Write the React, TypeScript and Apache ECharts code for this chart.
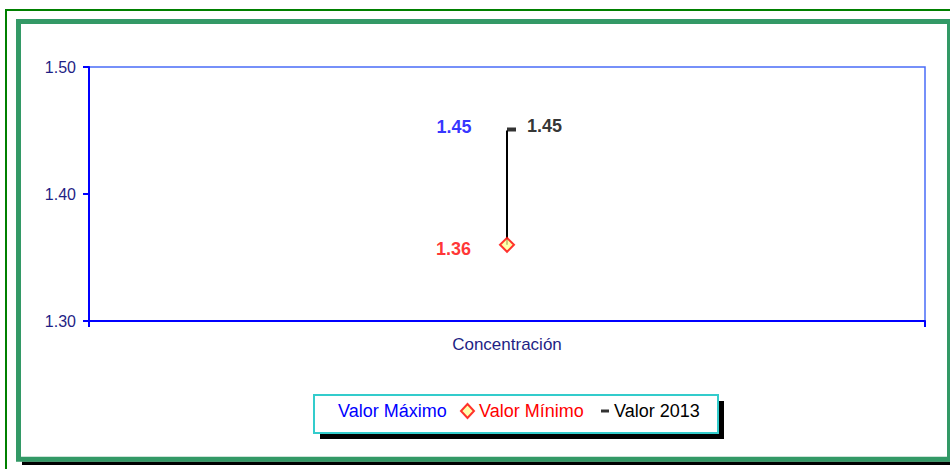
import React, { useEffect, useRef } from "react";
import * as echarts from "echarts";

const categories = ["Concentración"];
const valorMaximo = [1.45];
const valorMinimo = [1.36];
const valor2013 = [1.45];
const yTicks = { min: 1.3, max: 1.5, interval: 0.1 };

const FONT = "Liberation Sans, Arial, sans-serif";

export default function App() {
  const ref = useRef<HTMLDivElement>(null);
  useEffect(() => {
    if (!ref.current) return;
    const chart = echarts.init(ref.current, null, { renderer: "svg" });
    const fmt = (p: any) => {
      const v = Array.isArray(p.value) ? p.value[1] : p.value;
      return Number(v).toFixed(2);
    };
    const rangeData = categories.map((c, i) => [i, valorMinimo[i], valorMaximo[i]]);
    chart.setOption({
      animation: false,
      backgroundColor: "#ffffff",
      textStyle: { fontFamily: FONT },
      grid: {
        left: 89,
        right: 25,
        top: 67,
        bottom: 148,
        show: true,
        borderColor: "#4a6cf7",
        borderWidth: 1.5,
        backgroundColor: "transparent",
      },
      xAxis: {
        type: "category",
        data: categories,
        axisLine: { lineStyle: { color: "#0000ff", width: 2 } },
        axisTick: { show: true, length: 6, lineStyle: { color: "#0000ff", width: 2 } },
        axisLabel: { color: "#1f1f85", fontSize: 17, margin: 15, fontFamily: FONT },
        splitLine: { show: false },
      },
      yAxis: {
        type: "value",
        min: yTicks.min,
        max: yTicks.max,
        interval: yTicks.interval,
        axisLine: { show: true, lineStyle: { color: "#0000ff", width: 2 } },
        axisTick: { show: true, length: 6, lineStyle: { color: "#0000ff", width: 2 } },
        axisLabel: {
          color: "#1f1f85",
          fontSize: 16,
          margin: 13,
          fontFamily: FONT,
          formatter: (v: number) => v.toFixed(2),
        },
        splitLine: { show: false },
      },
      legend: [
        {
          data: [{ name: "Valor Máximo", icon: "none" }],
          left: 333,
          top: 402,
          itemWidth: 0,
          itemHeight: 12,
          padding: 0,
          selectedMode: false,
          textStyle: { color: "#0000ff", fontSize: 18, fontFamily: FONT },
        },
        {
          data: [{ name: "Valor Mínimo", icon: "diamond" }],
          left: 460,
          top: 402,
          itemWidth: 13,
          itemHeight: 14,
          padding: 0,
          selectedMode: false,
          textStyle: { color: "#ff0000", fontSize: 18, fontFamily: FONT },
        },
        {
          data: [{ name: "Valor 2013", icon: "rect" }],
          left: 601,
          top: 402,
          itemWidth: 8,
          itemHeight: 3,
          padding: 0,
          selectedMode: false,
          textStyle: { color: "#000000", fontSize: 18, fontFamily: FONT },
        },
      ],
      graphic: [
        {
          type: "polyline",
          z: -10,
          shape: { points: [[6, 470], [6, 10], [952, 10]] },
          style: { stroke: "#008000", lineWidth: 2, fill: "none" },
        },
        {
          type: "rect",
          z: -10,
          shape: { x: 22, y: 461.5, width: 940, height: 3.5 },
          style: { fill: "#000000" },
        },
        {
          type: "rect",
          z: -9,
          shape: { x: 18.5, y: 21.5, width: 931, height: 437.7 },
          style: { fill: "#ffffff", stroke: "#339966", lineWidth: 5 },
        },
        {
          type: "rect",
          z: -8,
          shape: { x: 320, y: 401, width: 404, height: 38 },
          style: { fill: "#000000" },
        },
        {
          type: "rect",
          z: -7,
          shape: { x: 314, y: 395, width: 404, height: 38 },
          style: { fill: "#ffffff", stroke: "#33cccc", lineWidth: 2 },
        },
      ],
      series: [
        {
          type: "custom",
          name: "range",
          data: rangeData,
          encode: { x: 0, y: [1, 2] },
          silent: true,
          z: 1,
          renderItem: (params: any, api: any) => {
            const p1 = api.coord([api.value(0), api.value(1)]);
            const p2 = api.coord([api.value(0), api.value(2)]);
            return {
              type: "line",
              shape: { x1: p1[0], y1: p1[1], x2: p2[0], y2: p2[1] },
              style: { stroke: "#000000", lineWidth: 2 },
            };
          },
        },
        {
          type: "scatter",
          name: "Valor Máximo",
          data: valorMaximo,
          symbol: "circle",
          symbolSize: 1,
          z: 3,
          itemStyle: { color: "rgba(0,0,0,0)" },
          label: {
            show: true,
            position: "left",
            distance: 35,
            offset: [0, -4],
            color: "#0000ff",
            fontSize: 18,
            fontWeight: "bold",
            fontFamily: FONT,
            formatter: fmt,
          },
        },
        {
          type: "scatter",
          name: "Valor 2013",
          data: valor2013,
          symbol: "rect",
          symbolSize: [9, 4],
          symbolOffset: [4.5, -1],
          z: 4,
          itemStyle: { color: "#000000" },
          label: {
            show: true,
            position: "right",
            distance: 11,
            offset: [0, -4],
            color: "#000000",
            fontSize: 18,
            fontWeight: "bold",
            fontFamily: FONT,
            formatter: fmt,
          },
        },
        {
          type: "scatter",
          name: "Valor Mínimo",
          data: valorMinimo,
          symbol: "diamond",
          symbolSize: [14, 14],
          z: 5,
          itemStyle: { color: "#ffff99", borderColor: "#ff0000", borderWidth: 2 },
          label: {
            show: true,
            position: "left",
            distance: 28,
            offset: [0, 4],
            color: "#ff0000",
            fontSize: 18,
            fontWeight: "bold",
            fontFamily: FONT,
            formatter: fmt,
          },
        },
      ],
    });
    return () => chart.dispose();
  }, []);
  return (
    <div
      ref={ref}
      style={{ position: "fixed", left: 0, top: 0, width: 950, height: 469 }}
    />
  );
}
